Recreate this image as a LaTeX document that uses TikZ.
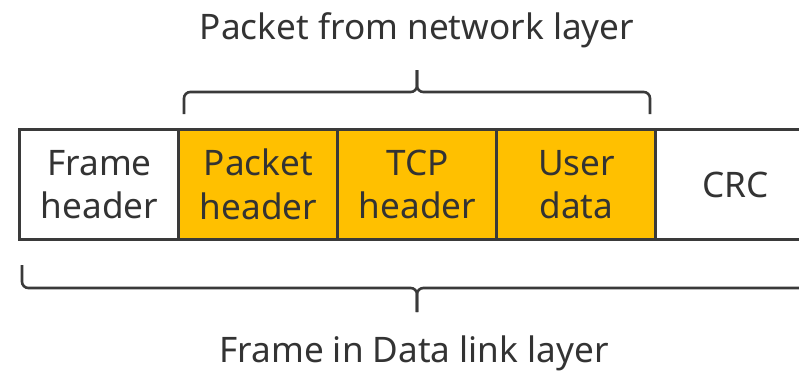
\documentclass[tikz,border=0pt]{standalone}
\usepackage{fontspec}
\setmainfont{Noto Sans}
\usepackage{xcolor}
\usetikzlibrary{positioning}

\definecolor{inkgray}{HTML}{3A3A3A}
\definecolor{textgray}{HTML}{333333}
\definecolor{gold}{HTML}{FFC000}

\begin{document}
\begin{tikzpicture}[
    x=0.025cm, y=-0.025cm,
    every node/.style={font=\fontsize{25}{31}\selectfont, align=center, text=textgray},
    cell/.style={
      rectangle, draw=inkgray, line width=0.075cm,
      fill=white, inner sep=0pt, outer sep=0pt,
      minimum width=3.975cm, minimum height=2.75cm
    },
    pktcell/.style={cell, fill=gold},
    brace/.style={draw=inkgray, line width=0.065cm, rounded corners=4.5pt}
  ]

    \useasboundingbox (0,0) rectangle (799,374);

    % Top label
    \node (pktlabel) at (417,30) {Packet from network layer};

    % Frame cells
    \node[cell] (fhdr) at (99.5,184.5) {Frame\\header};
    \node[pktcell] (phdr) at (258.5,184.5) {Packet\\header};
    \node[pktcell] (tcp) at (417.5,184.5) {TCP\\header};
    \node[pktcell] (udata) at (576.5,184.5) {User\\data};
    \node[cell] (crc) at (735.5,184.5) {CRC};

    % Top brace over the packet
    \coordinate (ptl) at (184,114);
    \coordinate (ptr) at (650,114);
    \coordinate (ptip) at (417,70);
    \draw[brace] (ptl) -- (184,92) -- (417,92) -- (ptip);
    \draw[brace] (ptr) -- (650,92) -- (417,92) -- (ptip);

    % Bottom brace under the frame
    \coordinate (fbl) at (22,265);
    \coordinate (fbr) at (812,265);
    \coordinate (ftip) at (417,312);
    \draw[brace] (fbl) -- (22,288) -- (417,288) -- (ftip);
    \draw[brace] (fbr) -- (812,288) -- (417,288) -- (ftip);

    % Bottom label
    \node (frmlabel) at (414,353) {Frame in Data link layer};

  \end{tikzpicture}
\end{document}
